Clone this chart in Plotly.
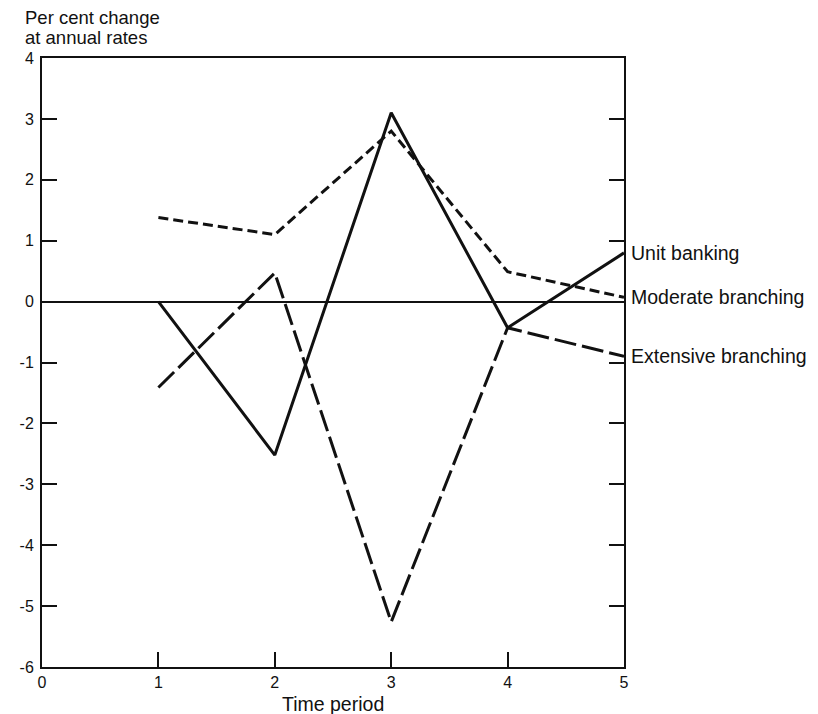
import plotly.graph_objects as go

periods = [1, 2, 3, 4, 5]
unit_banking = [0.0, -2.52, 3.1, -0.43, 0.8]
moderate_branching = [1.38, 1.1, 2.8, 0.49, 0.07]
extensive_branching = [-1.41, 0.47, -5.26, -0.43, -0.9]

x_ticks = [0, 1, 2, 3, 4, 5]
y_ticks = [-6, -5, -4, -3, -2, -1, 0, 1, 2, 3, 4]

series = [
    ("Unit banking", unit_banking, "solid"),
    ("Moderate branching", moderate_branching, "10px,5px"),
    ("Extensive branching", extensive_branching, "22px,6px"),
]

FONT = "Liberation Sans"
INK = "#111111"

fig = go.Figure()
for name, vals, dash in series:
    fig.add_trace(go.Scatter(
        x=periods, y=vals, mode="lines", name=name,
        line=dict(color=INK, width=3, dash=dash),
        showlegend=False, cliponaxis=False,
    ))
    fig.add_annotation(
        x=periods[-1], y=vals[-1], text=name, showarrow=False,
        xanchor="left", yanchor="middle", xshift=5,
        font=dict(family=FONT, size=19.5, color=INK),
    )

for line_text, shift in [("Per cent change", 41), ("at annual rates", 21)]:
    fig.add_annotation(
        xref="paper", yref="paper", x=0, y=1, xanchor="left", yanchor="middle",
        xshift=-19, yshift=shift, showarrow=False, text=line_text,
        font=dict(family=FONT, size=18.5, color=INK),
    )

fig.add_annotation(
    xref="paper", yref="paper", x=0.5, y=0, xanchor="center", yanchor="middle",
    yshift=-37, showarrow=False, text="Time period",
    font=dict(family=FONT, size=19.5, color=INK),
)

fig.update_layout(
    width=818, height=714,
    margin=dict(l=27, r=202, t=50, b=55),
    plot_bgcolor="white", paper_bgcolor="white",
    font=dict(family=FONT, size=16, color=INK),
)
fig.update_xaxes(
    range=[0, 5], tickvals=x_ticks, ticktext=[str(v) for v in x_ticks],
    showgrid=False, zeroline=False,
    showline=True, linecolor=INK, linewidth=2, mirror=True,
    ticks="inside", ticklen=15, tickwidth=2, tickcolor=INK,
)
fig.update_yaxes(
    range=[-6, 4], tickvals=y_ticks, ticktext=[str(v) for v in y_ticks],
    showgrid=False, zeroline=True, zerolinecolor=INK, zerolinewidth=1.5,
    showline=True, linecolor=INK, linewidth=2, mirror="ticks",
    ticks="inside", ticklen=15, tickwidth=2, tickcolor=INK,
    ticklabelstandoff=3,
)

fig.write_html("out.html")
